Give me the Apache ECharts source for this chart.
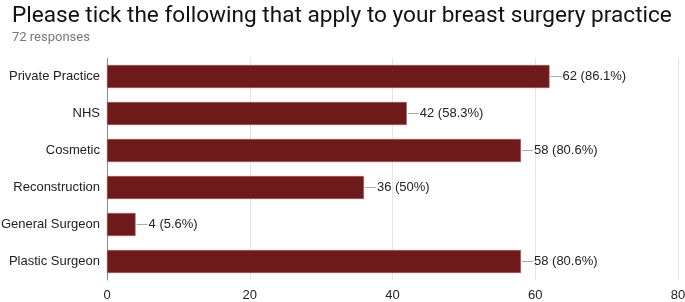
<!DOCTYPE html>
<html lang="en">
<head>
    <meta charset="UTF-8">
    <title>breast surgery practice</title>
    <script type="text/javascript" src="https://cdn.jsdelivr.net/npm/echarts@6/dist/echarts.min.js"></script>
    <style>
        body { margin: 0; background: #fff; }
    </style>
</head>
<body>
    <div id="main" style="width: 685px; height: 302px;"></div>
    <script type="text/javascript">
        // data
        var categories = ['Private Practice', 'NHS', 'Cosmetic', 'Reconstruction', 'General Surgeon', 'Plastic Surgeon'];
        var counts = [62, 42, 58, 36, 4, 58];
        var percents = ['86.1%', '58.3%', '80.6%', '50%', '5.6%', '80.6%'];
        var xTicks = [0, 20, 40, 60, 80];

        var myChart = echarts.init(document.getElementById('main'));

        myChart.setOption({
            animation: false,
            textStyle: { fontFamily: '"Liberation Sans", Arial, sans-serif' },
            title: {
                text: 'Please tick the following that apply to your breast surgery practice',
                subtext: '72 responses',
                left: 7,
                top: 0,
                itemGap: 3,
                textStyle: { fontSize: 22.6, fontWeight: 'normal', color: '#111', fontFamily: 'Roboto, sans-serif' },
                subtextStyle: { fontSize: 13, color: '#777', fontFamily: 'Roboto, sans-serif' }
            },
            grid: {
                left: 107,
                right: 7,
                top: 58,
                bottom: 22,
                containLabel: false,
                outerBoundsMode: 'none'
            },
            xAxis: {
                type: 'value',
                min: xTicks[0],
                max: xTicks[xTicks.length - 1],
                interval: 20,
                axisLine: { show: false },
                axisTick: { show: false },
                axisLabel: { color: '#222', fontSize: 13, margin: 9 },
                splitLine: { lineStyle: { color: '#e6e6e6' } }
            },
            yAxis: {
                type: 'category',
                inverse: true,
                data: categories,
                axisLine: { show: true, lineStyle: { color: '#8a8a8a' } },
                axisTick: { show: false },
                axisLabel: { color: '#222', fontSize: 13, margin: 7 }
            },
            series: [{
                type: 'bar',
                data: counts,
                barWidth: 23,
                itemStyle: {
                    color: '#6e1a1a',
                    borderColor: '#a0605e',
                    borderWidth: 0.6
                },
                label: {
                    show: true,
                    position: 'right',
                    distance: 1,
                    formatter: function (p) {
                        return '{ln|}{t|' + p.value + ' (' + percents[p.dataIndex] + ')}';
                    },
                    rich: {
                        ln: { width: 11, height: 1, backgroundColor: '#a8a8a8' },
                        t: { fontSize: 13, color: '#222', padding: [0, 0, 0, 1] }
                    }
                }
            }]
        });
    </script>
</body>
</html>
